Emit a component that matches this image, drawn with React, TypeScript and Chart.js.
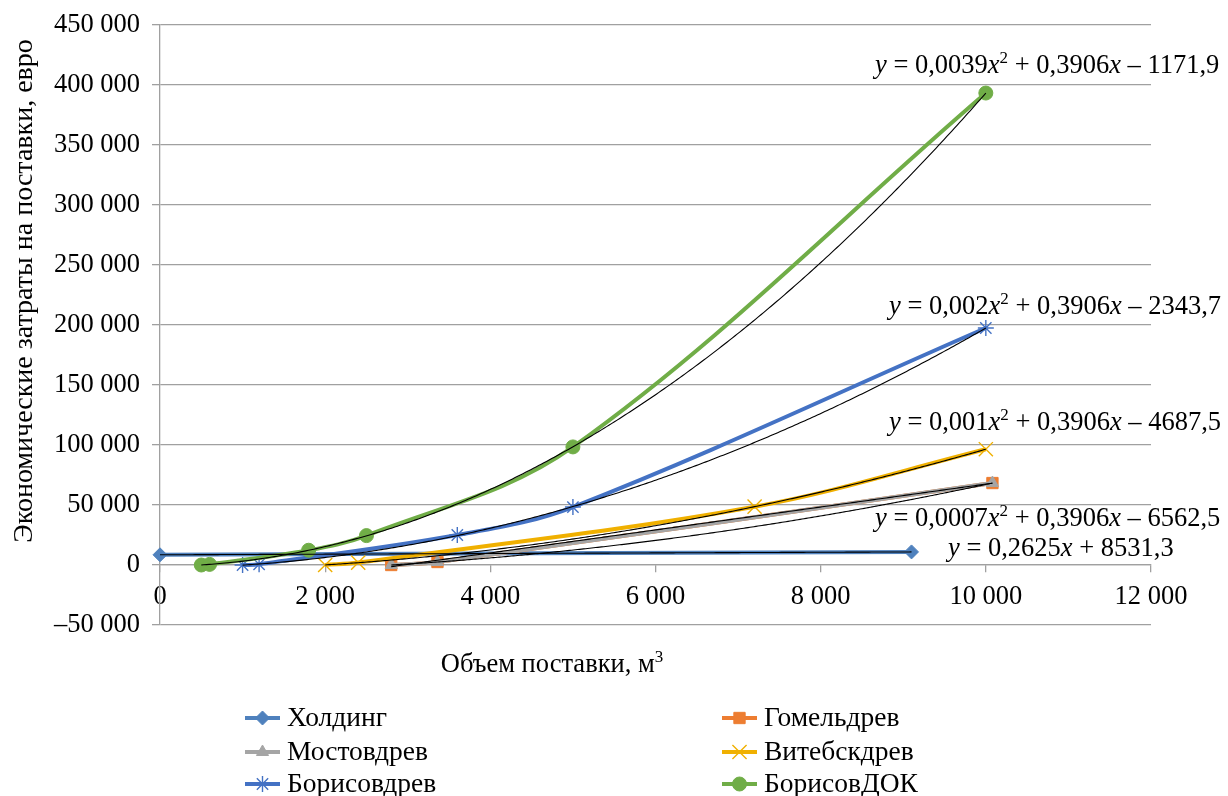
import React, { useEffect, useRef } from 'react';
import { Chart, registerables } from 'chart.js';
import { drawPoint } from 'chart.js/helpers';

Chart.register(...registerables);

const FONT = "'Liberation Serif', 'Times New Roman', serif";
const FS = 26.5;      // ticks and equations
const FS_LEG = 27.5;  // legend
const FS_YT = 28;     // y axis title
const FS_XT = 26.5;   // x axis title

// ---- data ----
const seriesNames = ['Холдинг', 'Гомельдрев', 'Мостовдрев', 'Витебскдрев', 'Борисовдрев', 'БорисовДОК'];

const holdingX = [0, 9100];
const holdingY = [8500, 10900];
const gomelX = [2800, 3360, 10080];
const gomelY = [0, 2500, 68300];
const mostX = [2800, 3360, 10080];
const mostY = [0, 2500, 68300];
const vitebskX = [2000, 2400, 7200, 10000];
const vitebskY = [0, 2000, 48600, 96500];
const borisovX = [1000, 1200, 3600, 5000, 10000];
const borisovY = [0, 600, 25000, 48300, 197500];
const dokX = [500, 600, 1800, 2500, 5000, 10000];
const dokY = [0, 500, 12300, 24500, 98400, 393300];

const xTicks = [0, 2000, 4000, 6000, 8000, 10000, 12000];
const yTicks = [-50000, 0, 50000, 100000, 150000, 200000, 250000, 300000, 350000, 400000, 450000];

// trendline degree for each series (Excel trendlines, fitted to the data)
const trendDegrees = [1, 1, 2, 2, 2, 2];

// equation labels shown on the chart
const eqDok = [['y', 'i'], [' = 0,0039', ''], ['x', 'i'], ['2', 's'], [' + 0,3906', ''], ['x', 'i'], [' – 1171,9', '']];
const eqBorisov = [['y', 'i'], [' = 0,002', ''], ['x', 'i'], ['2', 's'], [' + 0,3906', ''], ['x', 'i'], [' – 2343,7', '']];
const eqVitebsk = [['y', 'i'], [' = 0,001', ''], ['x', 'i'], ['2', 's'], [' + 0,3906', ''], ['x', 'i'], [' – 4687,5', '']];
const eqMost = [['y', 'i'], [' = 0,0007', ''], ['x', 'i'], ['2', 's'], [' + 0,3906', ''], ['x', 'i'], [' – 6562,5', '']];
const eqHolding = [['y', 'i'], [' = 0,2625', ''], ['x', 'i'], [' + 8531,3', '']];

const yTitle = 'Экономические затраты на поставки, евро';
const xTitle = [['Объем поставки, м', ''], ['3', 's']];

// ---- styles ----
const colors = ['#4F81BD', '#ED7D31', '#A5A5A5', '#F0B000', '#4472C4', '#70AD47'];
const pointStyles = ['rectRot', 'rect', 'triangle', 'crossRot', 'star', 'circle'];
const pointRadii = [7, 8, 7, 10, 8, 7];
const pointBorders = [1, 1, 1, 1.4, 1.4, 1];

const allX = [holdingX, gomelX, mostX, vitebskX, borisovX, dokX];
const allY = [holdingY, gomelY, mostY, vitebskY, borisovY, dokY];

function fmt(v: number): string {
  const s = Math.abs(Math.round(v)).toString().replace(/\B(?=(\d{3})+(?!\d))/g, '\u00A0');
  return (v < 0 ? '–' : '') + s;
}

function fitPoly(xs: number[], ys: number[], deg: number): number[] {
  const n = deg + 1;
  const A: number[][] = Array.from({ length: n }, () => new Array(n + 1).fill(0));
  for (let k = 0; k < xs.length; k++) {
    const x = xs[k] / 1000;
    for (let i = 0; i < n; i++) {
      for (let j = 0; j < n; j++) A[i][j] += Math.pow(x, i + j);
      A[i][n] += ys[k] * Math.pow(x, i);
    }
  }
  for (let i = 0; i < n; i++) {
    let p = i;
    for (let r = i + 1; r < n; r++) if (Math.abs(A[r][i]) > Math.abs(A[p][i])) p = r;
    const tmp = A[i]; A[i] = A[p]; A[p] = tmp;
    for (let r = 0; r < n; r++) {
      if (r === i) continue;
      const f = A[r][i] / A[i][i];
      for (let c = i; c <= n; c++) A[r][c] -= f * A[i][c];
    }
  }
  return A.map((row, i) => row[n] / row[i]);
}

function evalPoly(c: number[], x: number): number {
  const t = x / 1000;
  let s = 0;
  for (let i = c.length - 1; i >= 0; i--) s = s * t + c[i];
  return s;
}

function drawRich(ctx: CanvasRenderingContext2D, parts: string[][], x: number, y: number, align: 'left' | 'center', fs: number) {
  const fontFor = (k: string) => (k === 'i' ? `italic ${fs}px ${FONT}` : k === 's' ? `${Math.round(fs * 0.66)}px ${FONT}` : `${fs}px ${FONT}`);
  let total = 0;
  for (const [t, k] of parts) { ctx.font = fontFor(k); total += ctx.measureText(t).width; }
  let cx = align === 'center' ? x - total / 2 : x;
  ctx.textAlign = 'left';
  ctx.textBaseline = 'alphabetic';
  for (const [t, k] of parts) {
    ctx.font = fontFor(k);
    ctx.fillText(t, cx, k === 's' ? y - fs * 0.36 : y);
    cx += ctx.measureText(t).width;
  }
}

const App: React.FC = () => {
  const ref = useRef<HTMLCanvasElement | null>(null);

  useEffect(() => {
    if (!ref.current) return;
    const trends = allX.map((xs, i) => ({ xs, coef: fitPoly(xs, allY[i], trendDegrees[i]) }));

    const overlay = {
      id: 'overlay',
      afterDatasetsDraw(chart: any) {
        const { ctx, chartArea, scales } = chart;
        const sx = scales.x, sy = scales.y;
        ctx.save();
        ctx.beginPath();
        ctx.rect(chartArea.left, chartArea.top, chartArea.right - chartArea.left, chartArea.bottom - chartArea.top);
        ctx.clip();
        ctx.strokeStyle = '#000';
        ctx.lineWidth = 1.1;
        for (const t of trends) {
          const x0 = Math.min(...t.xs), x1 = Math.max(...t.xs);
          ctx.beginPath();
          for (let i = 0; i <= 300; i++) {
            const xv = x0 + ((x1 - x0) * i) / 300;
            const px = sx.getPixelForValue(xv);
            const py = sy.getPixelForValue(evalPoly(t.coef, xv));
            if (i === 0) ctx.moveTo(px, py); else ctx.lineTo(px, py);
          }
          ctx.stroke();
        }
        ctx.restore();
      },
      afterDraw(chart: any) {
        const { ctx } = chart;
        ctx.save();
        ctx.fillStyle = '#000';
        // equations
        drawRich(ctx, eqDok, 875, 73, 'left', FS);
        drawRich(ctx, eqBorisov, 889, 314, 'left', FS);
        drawRich(ctx, eqVitebsk, 889, 430, 'left', FS);
        drawRich(ctx, eqMost, 875, 526, 'left', FS);
        drawRich(ctx, eqHolding, 948, 556, 'left', FS);
        // x title
        drawRich(ctx, xTitle, 552, 672, 'center', FS_XT);
        // y title
        ctx.save();
        ctx.translate(32, 291);
        ctx.rotate(-Math.PI / 2);
        ctx.font = `${FS_YT}px ${FONT}`;
        ctx.textAlign = 'center';
        ctx.textBaseline = 'alphabetic';
        ctx.fillText(yTitle, 0, 0);
        ctx.restore();
        // legend
        const cols = [245, 722];
        const rows = [718, 752, 784];
        seriesNames.forEach((name, i) => {
          const lx = cols[i % 2];
          const ly = rows[Math.floor(i / 2)];
          ctx.strokeStyle = colors[i];
          ctx.fillStyle = colors[i];
          ctx.lineWidth = 4;
          ctx.beginPath();
          ctx.moveTo(lx, ly);
          ctx.lineTo(lx + 35, ly);
          ctx.stroke();
          ctx.lineWidth = pointBorders[i];
          drawPoint(ctx, { pointStyle: pointStyles[i], radius: pointRadii[i], rotation: 0, borderWidth: pointBorders[i] } as any, lx + 17.5, ly);
          ctx.fillStyle = '#000';
          ctx.font = `${FS_LEG}px ${FONT}`;
          ctx.textAlign = 'left';
          ctx.textBaseline = 'middle';
          ctx.fillText(name, lx + 42, ly + 1);
        });
        ctx.restore();
      },
    };

    const datasets = seriesNames.map((name, i) => ({
      label: name,
      data: allX[i].map((x, k) => ({ x, y: allY[i][k] })),
      showLine: true,
      borderColor: colors[i],
      backgroundColor: colors[i],
      borderWidth: 4,
      tension: 0.35,
      pointStyle: pointStyles[i],
      pointRadius: pointRadii[i],
      pointBorderWidth: pointBorders[i],
      pointBackgroundColor: colors[i],
      pointBorderColor: colors[i],
      order: 5 - i,
      clip: false,
    }));

    const chart = new Chart(ref.current, {
      type: 'scatter',
      data: { datasets },
      options: {
        responsive: false,
        animation: false,
        events: [],
        layout: { padding: { left: 0, top: 25, right: 77, bottom: 171 } },
        plugins: { legend: { display: false }, tooltip: { enabled: false }, title: { display: false } },
        scales: {
          x: {
            type: 'linear',
            position: { y: 0 } as any,
            min: xTicks[0],
            max: xTicks[xTicks.length - 1],
            afterBuildTicks: (s: any) => { s.ticks = xTicks.map((v) => ({ value: v })); },
            afterFit: (s: any) => { s.paddingLeft = 0; s.paddingRight = 0; },
            ticks: { font: { family: FONT, size: FS }, color: '#000', padding: 9, maxRotation: 0, autoSkip: false, callback: (v: any) => fmt(Number(v)) },
            grid: { drawOnChartArea: false, drawTicks: true, tickLength: 7, color: '#A0A0A0', lineWidth: 1.3 },
            border: { display: true, color: '#A0A0A0', width: 1.3 },
          },
          y: {
            type: 'linear',
            position: 'left',
            min: yTicks[0],
            max: yTicks[yTicks.length - 1],
            afterBuildTicks: (s: any) => { s.ticks = yTicks.map((v) => ({ value: v })); },
            afterFit: (s: any) => { s.width = 160; s.paddingTop = 0; s.paddingBottom = 0; },
            ticks: { font: { family: FONT, size: FS }, color: '#000', padding: 12, callback: (v: any) => fmt(Number(v)) },
            grid: { color: '#A0A0A0', lineWidth: 1.3, tickLength: 8, drawTicks: true },
            border: { display: true, color: '#A0A0A0', width: 1.3 },
          },
        },
      },
      plugins: [overlay],
    } as any);

    return () => chart.destroy();
  }, []);

  return (
    <div style={{ position: 'absolute', left: 0, top: 0, width: 1228, height: 796, background: '#fff' }}>
      <canvas ref={ref} width={1228} height={796} style={{ display: 'block' }} />
    </div>
  );
};

export default App;
